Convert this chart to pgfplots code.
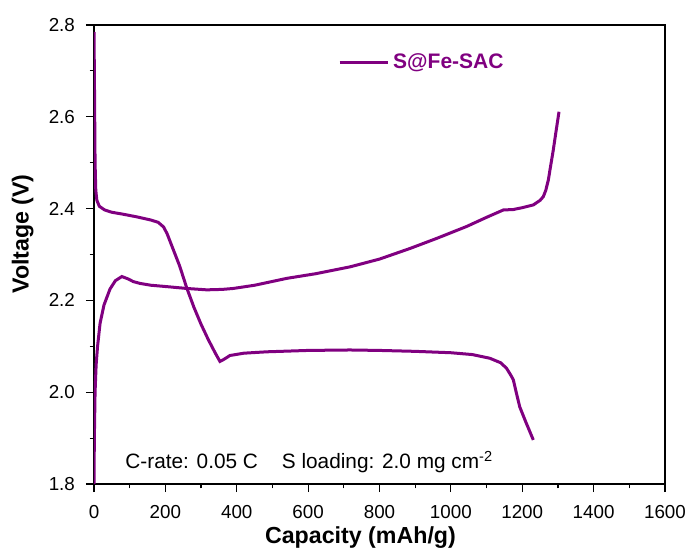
\documentclass[border=0pt]{standalone}
\usepackage{pgfplots}
\pgfplotsset{compat=1.18}
\usepackage{fontspec}
\setmainfont{Liberation Sans}
\usetikzlibrary{calc}
\definecolor{feSAC}{HTML}{800080}

\begin{document}
\begin{tikzpicture}
  \begin{axis}[name=ax,
      scale only axis, width=285.5pt, height=229.5pt,
      xmin=0, xmax=1600, ymin=1.8, ymax=2.8,
      xtick={0,200,...,1600}, ytick={1.8,2.0,...,2.8},
      minor x tick num=1, minor y tick num=1,
      xtick pos=left, ytick pos=left, tick align=outside,
      major tick length=4pt, minor tick length=2.2pt,
      tick style={black, line width=0.6pt}, axis line style={line width=0.7pt},
      /pgf/number format/assume math mode=true,
      /pgf/number format/1000 sep={},
      yticklabel style={/pgf/number format/fixed, /pgf/number format/fixed zerofill,
        /pgf/number format/precision=1, xshift=-2pt},
      xticklabel style={yshift=-3pt},
      tick label style={font=\fontsize{9.4}{11}\selectfont},
      xlabel={Capacity (mAh/g)}, ylabel={Voltage (V)},
      label style={font=\bfseries\fontsize{11.6}{13}\selectfont},
      xlabel style={at={(axis description cs:0.4667,-0.1176)}, anchor=center},
      ylabel style={at={(axis description cs:-0.125,0.5447)}, anchor=center},
      legend style={at={(rel axis cs:0.427,0.919)}, anchor=west, draw=none, fill=none,
        inner sep=0pt, font=\bfseries\fontsize{10.5}{12}\selectfont\color{feSAC}},
      legend image code/.code={\draw[#1] (0pt,0pt) -- (24pt,0pt);},
    ]
    % discharge
    \addplot[feSAC, line width=1.5pt] coordinates {
      (0,2.785) (1,2.70) (2,2.60) (3,2.50) (5,2.44) (8,2.418) (15,2.405) (30,2.397)
      (50,2.392) (80,2.388) (120,2.382) (160,2.375) (180,2.370) (195,2.360) (205,2.345)
      (220,2.315) (240,2.275) (260,2.227) (280,2.185) (300,2.148) (320,2.115) (340,2.085)
      (353,2.067) (365,2.072) (381,2.080) (420,2.085) (484,2.088) (600,2.091) (717,2.092)
      (800,2.091) (900,2.089) (1000,2.086) (1060,2.082) (1109,2.074) (1140,2.064)
      (1156,2.052) (1168,2.037) (1175,2.027) (1183,2.000) (1193,1.968) (1210,1.935)
      (1231,1.896)};
    \addlegendentry{S@Fe-SAC}
    % charge
    \addplot[feSAC, line width=1.5pt, forget plot] coordinates {
      (0,1.80) (1,1.90) (3,2.00) (6,2.06) (10,2.10) (17,2.15) (28,2.19) (45,2.225)
      (60,2.243) (78,2.252) (95,2.247) (110,2.241) (129,2.237) (160,2.233) (204,2.230)
      (260,2.226) (316,2.223) (360,2.224) (390,2.226) (450,2.233) (540,2.248) (620,2.258)
      (717,2.273) (800,2.290) (885,2.313) (960,2.335) (1044,2.361) (1100,2.381)
      (1147,2.397) (1175,2.398) (1200,2.402) (1231,2.408) (1250,2.418) (1259,2.426)
      (1266,2.440) (1273,2.462) (1280,2.495) (1287,2.528) (1295,2.570) (1303,2.611)};
    \node[anchor=west, inner sep=0pt, font=\fontsize{10.4}{12}\selectfont]
      at (axis cs:87,1.848) {C-rate: 0.05 C\hspace{1.15em}S loading: 2.0 mg cm\textsuperscript{-2}};
  \end{axis}
  \pgfresetboundingbox
  \path ($(ax.south west)+(-47pt,-34pt)$) rectangle ($(ax.north east)+(12.5pt,12.5pt)$);
\end{tikzpicture}
\end{document}
